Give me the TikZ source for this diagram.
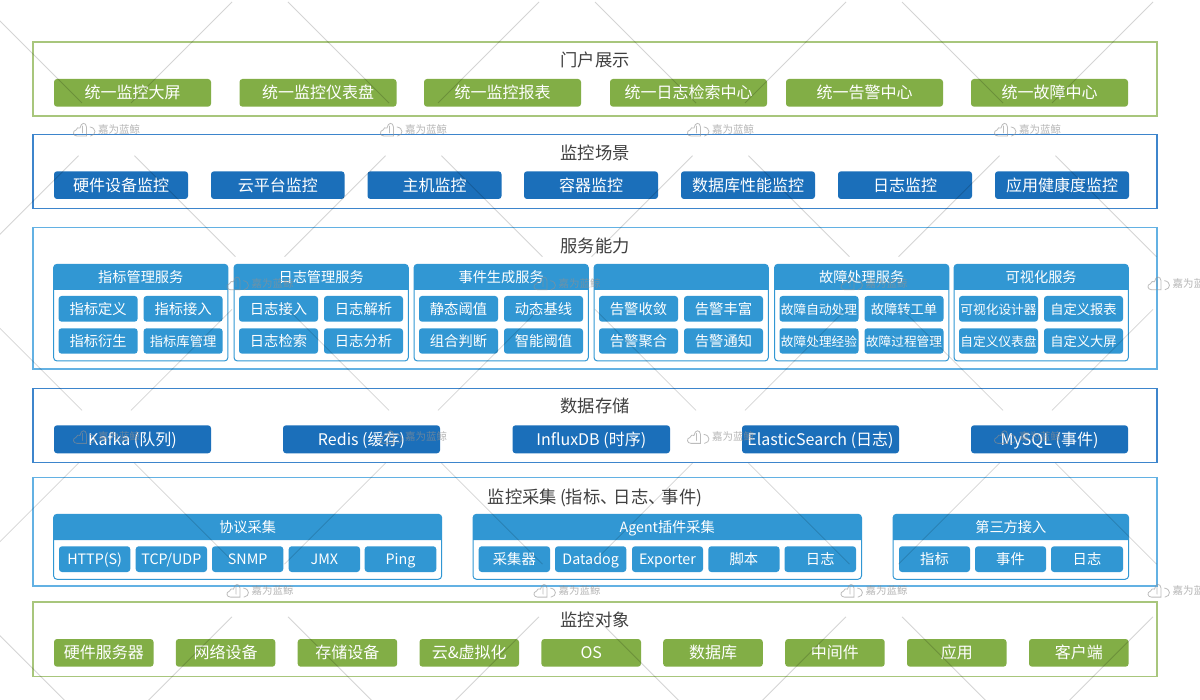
\documentclass[tikz,border=0pt]{standalone}
\usepackage{fontspec}
\setmainfont{Noto Sans CJK SC}
\newcommand\fsz[1]{\fontsize{#1}{#1}\selectfont}
\definecolor{gbtn}{HTML}{82AE46}
\definecolor{dbtn}{HTML}{1B6FBA}
\definecolor{lbtn}{HTML}{3197D3}
\definecolor{gline}{HTML}{A8C67C}
\definecolor{dline}{HTML}{3D85CC}
\definecolor{lline}{HTML}{63B1E3}
\definecolor{ttl}{HTML}{404040}
\definecolor{wmk}{HTML}{909090}
\tikzset{
  x=1pt,y=-1pt,
  btn/.style={rounded corners=3pt,inner sep=0pt,outer sep=0pt,text=white,align=center,font=\fsz{16},text height=14.08pt,text depth=1.92pt},
  gbutton/.style={btn,fill=gbtn},
  dbutton/.style={btn,fill=dbtn},
  lbutton/.style={btn,fill=lbtn,font=\fsz{14.3},text height=12.6pt,text depth=1.7pt},
  hdrtext/.style={inner sep=0pt,text=white,font=\fsz{14.2},text height=12.5pt,text depth=1.7pt},
  outerbox/.style={inner sep=0pt,outer sep=0pt,line width=1.4pt,fill=white},
  titletext/.style={inner sep=0pt,text=ttl,font=\fsz{17.3},text height=15.2pt,text depth=2.1pt},
  groupbox/.style={rounded corners=3.5pt,draw=lbtn,line width=1pt,fill=white,inner sep=0pt,outer sep=0pt},
  wmline/.style={draw=black,opacity=0.17,line width=0.8pt},
  wmtext/.style={inner sep=0pt,anchor=west,text=wmk,text opacity=0.65,font=\fsz{10.5}},
  wmlogo/.style={draw=wmk,opacity=0.6,line width=0.8pt},
}
% name, x0, y0, x1, y1, style, text
\newcommand\bx[7]{%
  \node[#6,minimum width={((#4)-(#2))*1pt},minimum height={((#5)-(#3))*1pt}] (#1) at ({((#2)+(#4))/2},{((#3)+(#5))/2}) {#7};}
% name, x0, y0, x1, y1, header bottom, text
\newcommand\grp[7]{%
  \bx{#1}{#2}{#3}{#4}{#5}{groupbox}{}
  \fill[lbtn] ({#2},#6) [rounded corners=3.5pt] -- ({#2},#3) -- ({#4},#3) [sharp corners] -- ({#4},#6) -- cycle;
  \node[hdrtext] (#1h) at ({((#2)+(#4))/2},{((#3)+(#6))/2+0.3}) {#7};}
% service group: name, x0, five labels
\newcommand\svc[7]{%
  \grp{#1}{#2}{264.3}{#2+174.3}{361}{290}{#3}
  \bx{#1a}{#2+5}{296}{#2+84}{321.7}{lbutton}{#4}
  \bx{#1b}{#2+90}{296}{#2+169}{321.7}{lbutton}{#5}
  \bx{#1c}{#2+5}{328.3}{#2+84}{353.7}{lbutton}{#6}
  \bx{#1d}{#2+90}{328.3}{#2+169}{353.7}{lbutton}{#7}}
\newcommand\sm{\fsz{13.3}}
\newcommand\xs{\fsz{12.7}}
\newcommand\wmtile[3]{%
  \begin{scope}[shift={(#1,#2)}]
    \draw[wmlogo,line cap=round] (5,14) .. controls (1,14) and (0,9) .. (4,8) .. controls (5,6) and (6,5) .. (8,6) .. controls (9,0) and (14,0) .. (14.5,5) -- (14.5,14) -- cycle
      (18,5) .. controls (24.5,6) and (24.5,13) .. (18.5,14)
      (10.5,4) -- (10.5,11);
    \node[wmtext] (wm#3) at (26,7.3) {嘉为蓝鲸};
  \end{scope}}
\begin{document}
\begin{tikzpicture}
\useasboundingbox (0,0) rectangle (1200,700);
\clip (0,0) rectangle (1200,700);
\fill[white] (0,0) rectangle (1200,700);

% --- outer layers
\bx{L1}{33}{42}{1157}{116}{outerbox,draw=gline}{}
\bx{L2}{33}{134.6}{1157}{208.6}{outerbox,draw=dline}{}
\bx{L3}{33}{227.8}{1157}{369}{outerbox,draw=lline}{}
\bx{L4}{33}{388.3}{1157}{462.3}{outerbox,draw=dline}{}
\bx{L5}{33}{477.8}{1157}{586}{outerbox,draw=lline}{}
\bx{L6}{33}{601.8}{1157}{676.3}{outerbox,draw=gline}{}

\node[titletext] (T1) at (595,60) {门户展示};
\node[titletext] (T2) at (595,152.5) {监控场景};
\node[titletext] (T3) at (595,245.5) {服务能力};
\node[titletext] (T4) at (595,406) {数据存储};
\node[titletext] (T5) at (595,497) {监控采集\kern3pt(指标、\kern-4pt日志、\kern-4pt事件)};
\node[titletext] (T6) at (595,620) {监控对象};

% --- portal
\bx{p1}{54}{79}{211}{106.7}{gbutton}{统一监控大屏}
\bx{p2}{239.5}{79}{396.5}{106.7}{gbutton}{统一监控仪表盘}
\bx{p3}{424}{79}{581}{106.7}{gbutton}{统一监控报表}
\bx{p4}{610}{79}{767}{106.7}{gbutton}{统一日志检索中心}
\bx{p5}{786}{79}{943}{106.7}{gbutton}{统一告警中心}
\bx{p6}{971}{79}{1128}{106.7}{gbutton}{统一故障中心}

% --- scenes
\bx{s1}{54}{171.3}{188}{199}{dbutton}{硬件设备监控}
\bx{s2}{211}{171.3}{344.5}{199}{dbutton}{云平台监控}
\bx{s3}{367.5}{171.3}{501.5}{199}{dbutton}{主机监控}
\bx{s4}{524}{171.3}{658}{199}{dbutton}{容器监控}
\bx{s5}{681}{171.3}{815}{199}{dbutton}{数据库性能监控}
\bx{s6}{838}{171.3}{972}{199}{dbutton}{日志监控}
\bx{s7}{995}{171.3}{1129}{199}{dbutton}{应用健康度监控}

% --- services
\svc{g1}{53.6}{指标管理服务}{指标定义}{指标接入}{指标衍生}{\sm 指标库管理}
\svc{g2}{234}{日志管理服务}{日志接入}{日志解析}{日志检索}{日志分析}
\svc{g3}{414}{事件生成服务}{静态阈值}{动态基线}{组合判断}{智能阈值}
\svc{g4}{594}{}{告警收敛}{告警丰富}{告警聚合}{告警通知}
\svc{g5}{774.5}{故障处理服务}{\xs 故障自动处理}{\sm 故障转工单}{\xs 故障处理经验}{\xs 故障过程管理}
\svc{g6}{954}{可视化服务}{\xs 可视化设计器}{\sm 自定义报表}{\xs 自定义仪表盘}{\sm 自定义大屏}

% --- storage
\bx{d1}{54}{425.3}{211}{453.3}{dbutton}{Kafka (队列)}
\bx{d2}{283}{425.3}{440}{453.3}{dbutton}{Redis (缓存)}
\bx{d3}{512.5}{425.3}{670}{453.3}{dbutton}{InfluxDB (时序)}
\bx{d4}{742}{425.3}{899}{453.3}{dbutton}{ElasticSearch (日志)}
\bx{d5}{971}{425.3}{1128}{453.3}{dbutton}{MySQL (事件)}

% --- collection
\grp{c1}{53.6}{514.3}{441.7}{579.3}{540}{协议采集}
\bx{c1a}{59}{546.3}{130.3}{572}{lbutton}{HTTP(S)}
\bx{c1b}{135.7}{546.3}{207}{572}{lbutton}{TCP/UDP}
\bx{c1c}{212}{546.3}{283.3}{572}{lbutton}{SNMP}
\bx{c1d}{288.7}{546.3}{360}{572}{lbutton}{JMX}
\bx{c1e}{364.7}{546.3}{436.3}{572}{lbutton}{Ping}
\grp{c2}{473}{514.3}{861.5}{579.3}{540}{Agent插件采集}
\bx{c2a}{478.7}{546.3}{550}{572}{lbutton}{采集器}
\bx{c2b}{555}{546.3}{626.3}{572}{lbutton}{Datadog}
\bx{c2c}{632}{546.3}{703}{572}{lbutton}{Exporter}
\bx{c2d}{708.3}{546.3}{779.5}{572}{lbutton}{脚本}
\bx{c2e}{784.5}{546.3}{856}{572}{lbutton}{日志}
\grp{c3}{893}{514.3}{1128.6}{579.3}{540}{第三方接入}
\bx{c3a}{899}{546.3}{970}{572}{lbutton}{指标}
\bx{c3b}{975}{546.3}{1046}{572}{lbutton}{事件}
\bx{c3c}{1051}{546.3}{1123}{572}{lbutton}{日志}

% --- objects
\bx{o1}{54}{639}{153.5}{666.7}{gbutton}{硬件服务器}
\bx{o2}{175.8}{639}{275.3}{666.7}{gbutton}{网络设备}
\bx{o3}{297.7}{639}{397.2}{666.7}{gbutton}{存储设备}
\bx{o4}{419.5}{639}{519}{666.7}{gbutton}{云\&虚拟化}
\bx{o5}{541.4}{639}{641}{666.7}{gbutton}{OS}
\bx{o6}{663.2}{639}{762.8}{666.7}{gbutton}{数据库}
\bx{o7}{785.2}{639}{884.7}{666.7}{gbutton}{中间件}
\bx{o8}{907}{639}{1006.5}{666.7}{gbutton}{应用}
\bx{o9}{1029}{639}{1128.6}{666.7}{gbutton}{客户端}

% --- watermark
\foreach \r/\dy/\dx in {0/0/0,1/153.7/153.5,2/307.4/0,3/461.1/153.5,4/614.8/0}{
  \foreach \k in {-1,0,1,2,3,4}{
    \draw[wmline] ({-19+\dx+307*\k},{2+\dy}) -- ++(101,101);
    \draw[wmline] ({232+\dx+307*\k},{2+\dy}) -- ++(-101,101);
  }
}
\foreach \r/\dy/\dx in {0/0/0,1/153.7/153.5,2/307.4/0,3/461.1/153.5}{
  \foreach \k in {0,1,2,3}{
    \wmtile{{72+\dx+307*\k}}{{122+\dy}}{\r\k}
  }
}
\end{tikzpicture}
\end{document}
